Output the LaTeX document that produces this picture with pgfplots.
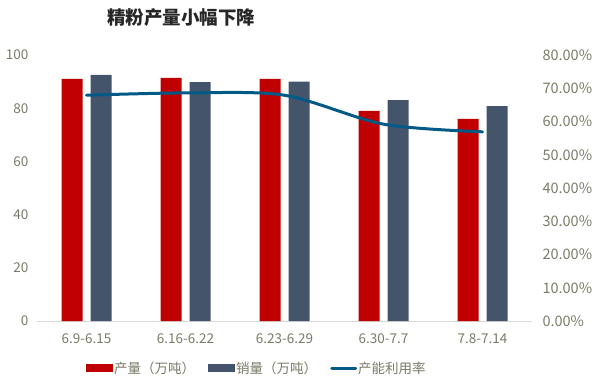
\documentclass[border=0pt]{standalone}
\usepackage{fontspec}
\setmainfont{Noto Sans CJK SC}
\usepackage{pgfplots}
\pgfplotsset{compat=1.18}
\definecolor{cRed}{HTML}{C00000}
\definecolor{cSlate}{HTML}{44546A}
\definecolor{cLine}{HTML}{005A85}
\definecolor{cTick}{HTML}{7A7A68}
\begin{document}
\begin{tikzpicture}[x=1pt,y=1pt]
\useasboundingbox (0,0) rectangle (602,381);
\node[font=\fontsize{18.5}{20}\selectfont\bfseries, text=black!85] at (181,363) {精粉产量小幅下降};
\begin{axis}[
  at={(37pt,60pt)}, anchor=south west,
  scale only axis, width=495pt, height=266pt,
  xmin=-0.5, xmax=4.5, ymin=0, ymax=100,
  xtick={0,1,2,3,4},
  xticklabels={6.9-6.15,6.16-6.22,6.23-6.29,6.30-7.7,7.8-7.14},
  ytick={0,20,40,60,80,100},
  /pgf/number format/assume math mode=true,
  tick style={draw=none},
  axis x line*=bottom, axis y line*=left,
  x axis line style={draw=black!15, line width=0.8pt, -},
  y axis line style={draw=none},
  ticklabel style={font=\fontsize{13.5}{15}\selectfont, text=cTick},
  xticklabel style={yshift=-5pt},
  yticklabel style={xshift=-5pt},
  ybar, bar width=21pt,
  legend style={at={(0.5,-0.145)}, anchor=north, xshift=-28pt, draw=none, legend columns=3,
    font=\fontsize{13.5}{15}\selectfont, text=cTick, inner sep=0pt,
    /tikz/every even column/.append style={column sep=12pt},
    nodes={inner xsep=1pt}},
]
\addplot[fill=cRed, draw=none, bar shift=-14.5pt,
  legend image code/.code={\fill[cRed] (0pt,-4pt) rectangle (27pt,4pt);}]
  coordinates {(0,91) (1,91.4) (2,91) (3,79) (4,76)};
\addlegendentry{产量（万吨）}
\addplot[fill=cSlate, draw=none, bar shift=14.5pt,
  legend image code/.code={\fill[cSlate] (0pt,-4pt) rectangle (27pt,4pt);}]
  coordinates {(0,92.5) (1,89.8) (2,90) (3,83) (4,80.8)};
\addlegendentry{销量（万吨）}
\addlegendimage{legend image code/.code={\draw[cLine, line width=3pt, line cap=round] (1.5pt,0pt) -- (25.5pt,0pt);}}
\addlegendentry{产能利用率}
\end{axis}
\begin{axis}[
  at={(37pt,60pt)}, anchor=south west,
  scale only axis, width=495pt, height=266pt,
  xmin=-0.5, xmax=4.5, ymin=0, ymax=0.8,
  axis x line=none,
  axis y line*=right,
  y axis line style={draw=none},
  tick style={draw=none},
  ytick={0,0.1,0.2,0.3,0.4,0.5,0.6,0.7,0.8},
  yticklabels={0.00\%,10.00\%,20.00\%,30.00\%,40.00\%,50.00\%,60.00\%,70.00\%,80.00\%},
  ticklabel style={font=\fontsize{14.5}{16}\selectfont, text=cTick},
  yticklabel style={xshift=7pt},
]
\addplot[cLine, line width=3pt, smooth, line cap=round]
  coordinates {(0,0.679) (1,0.686) (2,0.679) (3,0.592) (4,0.569)};
\end{axis}
\end{tikzpicture}
\end{document}
